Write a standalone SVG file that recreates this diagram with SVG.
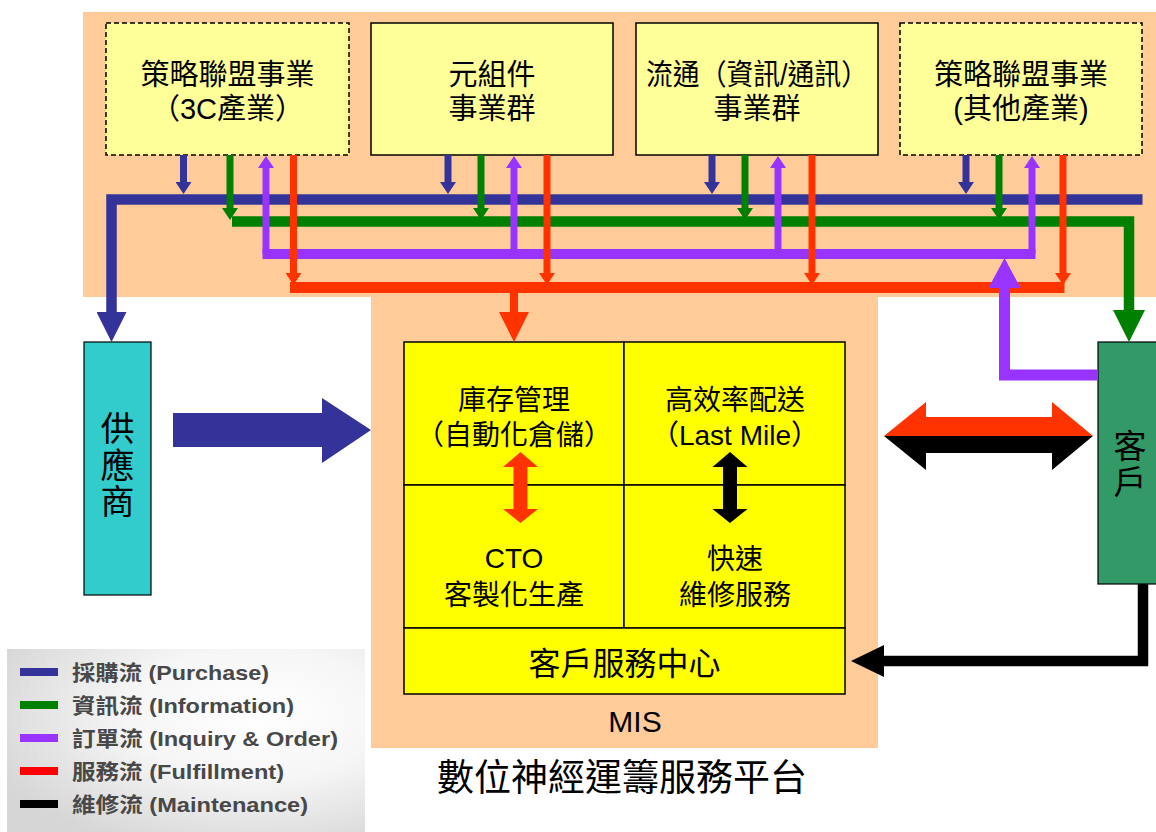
<svg xmlns="http://www.w3.org/2000/svg" width="1156" height="832" viewBox="0 0 1156 832">
<defs>
<style>
.bg{fill:#FFCC99}
.tb{fill:#FFFF99;stroke:#000;stroke-width:1.5}
.dash{stroke-dasharray:5,3}
.cell{fill:#FFFF00;stroke:#000;stroke-width:1.5}
.t{font-family:'Liberation Sans','Noto Sans CJK TC',sans-serif;font-size:28px;fill:#000;text-anchor:middle}
.tt{font-size:29px}
.lg{font-family:'Liberation Sans','Noto Sans CJK TC',sans-serif;font-size:21px;font-weight:bold;fill:#484848}
.bl{stroke:#333399;fill:none}
.gr{stroke:#008000;fill:none}
.pu{stroke:#9933FF;fill:none}
.rd{stroke:#FF3300;fill:none}
.sm{stroke-width:7}
</style>
<marker id="hb" markerUnits="userSpaceOnUse" markerWidth="16" markerHeight="16" viewBox="0 0 12 16" refX="0" refY="8" orient="auto"><path d="M0,0 L12,8 L0,16 Z" fill="#333399"/></marker>
<marker id="hg" markerUnits="userSpaceOnUse" markerWidth="16" markerHeight="16" viewBox="0 0 12 16" refX="0" refY="8" orient="auto"><path d="M0,0 L12,8 L0,16 Z" fill="#008000"/></marker>
<marker id="hp" markerUnits="userSpaceOnUse" markerWidth="16" markerHeight="16" viewBox="0 0 12 16" refX="0" refY="8" orient="auto"><path d="M0,0 L12,8 L0,16 Z" fill="#9933FF"/></marker>
<marker id="hr" markerUnits="userSpaceOnUse" markerWidth="16" markerHeight="16" viewBox="0 0 12 16" refX="0" refY="8" orient="auto"><path d="M0,0 L12,8 L0,16 Z" fill="#FF3300"/></marker>
<marker id="Hb" markerUnits="userSpaceOnUse" markerWidth="30" markerHeight="30" viewBox="0 0 30 30" refX="0" refY="15" orient="auto"><path d="M0,0 L30,15 L0,30 Z" fill="#333399"/></marker>
<marker id="Hg" markerUnits="userSpaceOnUse" markerWidth="32" markerHeight="32" viewBox="0 0 32 32" refX="0" refY="16" orient="auto"><path d="M0,0 L32,16 L0,32 Z" fill="#008000"/></marker>
<marker id="Hp" markerUnits="userSpaceOnUse" markerWidth="32" markerHeight="32" viewBox="0 0 30 32" refX="0" refY="16" orient="auto"><path d="M0,0 L30,16 L0,32 Z" fill="#9933FF"/></marker>
<marker id="Hr" markerUnits="userSpaceOnUse" markerWidth="30" markerHeight="30" viewBox="0 0 30 30" refX="0" refY="15" orient="auto"><path d="M0,0 L30,15 L0,30 Z" fill="#FF3300"/></marker>
<radialGradient id="lgbg" cx="0.7" cy="0.35" r="0.8">
<stop offset="0" stop-color="#FFFFFF"/>
<stop offset="0.45" stop-color="#F6F6F6"/>
<stop offset="1" stop-color="#D6D6D6"/>
</radialGradient>
</defs>
<rect width="1156" height="832" fill="#FFFFFF"/>

<g id="backgrounds">
<rect class="bg" x="83" y="12" width="1073" height="285"/>
<rect class="bg" x="371" y="297" width="507" height="451"/>
</g>

<g id="node-3c">
<rect class="tb dash" x="106" y="23" width="243" height="132"/>
<text class="t tt" x="227.5" y="85">策略聯盟事業</text>
<text class="t tt" x="227.5" y="119">（3C產業）</text>
</g>
<g id="node-components">
<rect class="tb" x="371" y="23" width="242" height="132"/>
<text class="t tt" x="492" y="85">元組件</text>
<text class="t tt" x="492" y="119">事業群</text>
</g>
<g id="node-distribution">
<rect class="tb" x="636" y="23" width="242" height="132"/>
<text class="t tt" x="757" y="85" textLength="222" lengthAdjust="spacingAndGlyphs">流通（資訊/通訊）</text>
<text class="t tt" x="757" y="119">事業群</text>
</g>
<g id="node-other">
<rect class="tb dash" x="900" y="23" width="242" height="132"/>
<text class="t tt" x="1021" y="85">策略聯盟事業</text>
<text class="t tt" x="1021" y="119">(其他產業)</text>
</g>

<g id="node-supplier">
<rect x="84" y="342" width="67" height="253" fill="#33CCCC" stroke="#000" stroke-width="1.2"/>
<text class="t" x="117.5" y="441" style="font-size:34px">供</text>
<text class="t" x="117.5" y="478" style="font-size:34px">應</text>
<text class="t" x="117.5" y="514" style="font-size:34px">商</text>
</g>

<g id="node-customer">
<rect x="1098" y="342" width="64" height="242" fill="#339966" stroke="#000" stroke-width="1.2"/>
<text class="t" x="1130" y="458" style="font-size:33px">客</text>
<text class="t" x="1130" y="494" style="font-size:33px">戶</text>
</g>

<g id="node-mis">
<rect class="cell" x="404" y="342" width="220" height="143"/>
<rect class="cell" x="624" y="342" width="221" height="143"/>
<rect class="cell" x="404" y="485" width="220" height="143"/>
<rect class="cell" x="624" y="485" width="221" height="143"/>
<rect class="cell" x="404" y="628" width="441" height="66"/>
<text class="t" x="514" y="410">庫存管理</text>
<text class="t" x="514" y="445">（自動化倉儲）</text>
<text class="t" x="735" y="410">高效率配送</text>
<text class="t" x="735" y="445">（Last Mile）</text>
<text class="t" x="514" y="568">CTO</text>
<text class="t" x="514" y="605">客製化生產</text>
<text class="t" x="735" y="569">快速</text>
<text class="t" x="735" y="605">維修服務</text>
<text class="t" x="624.5" y="675" style="font-size:32px">客戶服務中心</text>
<text class="t" x="635" y="732" style="font-size:30px">MIS</text>
<polygon points="520.5,452 538,467 527.5,467 527.5,509 538,509 520.5,523 503,509 513.5,509 513.5,467 503,467" fill="#FF3300"/>
<polygon points="730,452 747.5,467 737,467 737,509 747.5,509 730,523 712.5,509 723,509 723,467 712.5,467" fill="#000000"/>
</g>

<g id="title">
<text class="t" x="622" y="791" style="font-size:37px">數位神經運籌服務平台</text>
</g>

<g id="connectors">
<path class="bl" d="M1142.5,199.5 H111.5 V312" stroke-width="10.5" stroke-linejoin="miter" marker-end="url(#Hb)"/>
<line class="bl sm" x1="183.5" y1="155" x2="183.5" y2="182" marker-end="url(#hb)"/>
<line class="bl sm" x1="448" y1="155" x2="448" y2="182" marker-end="url(#hb)"/>
<line class="bl sm" x1="712" y1="155" x2="712" y2="182" marker-end="url(#hb)"/>
<line class="bl sm" x1="966" y1="155" x2="966" y2="182" marker-end="url(#hb)"/>
<path class="gr" d="M232,221.5 H1129 V310" stroke-width="10.5" stroke-linejoin="miter" marker-end="url(#Hg)"/>
<line class="gr sm" x1="230" y1="155" x2="230" y2="208" marker-end="url(#hg)"/>
<line class="gr sm" x1="481" y1="155" x2="481" y2="208" marker-end="url(#hg)"/>
<line class="gr sm" x1="745" y1="155" x2="745" y2="208" marker-end="url(#hg)"/>
<line class="gr sm" x1="999" y1="155" x2="999" y2="208" marker-end="url(#hg)"/>
<line class="pu" x1="262.5" y1="254" x2="1035.5" y2="254" stroke-width="10"/>
<line class="pu sm" x1="266" y1="254" x2="266" y2="168" marker-end="url(#hp)"/>
<line class="pu sm" x1="514" y1="254" x2="514" y2="168" marker-end="url(#hp)"/>
<line class="pu sm" x1="778" y1="254" x2="778" y2="168" marker-end="url(#hp)"/>
<line class="pu sm" x1="1032" y1="254" x2="1032" y2="168" marker-end="url(#hp)"/>
<line class="rd" x1="290" y1="287.5" x2="1064.5" y2="287.5" stroke-width="11"/>
<line class="rd sm" x1="293.5" y1="155" x2="293.5" y2="273" marker-end="url(#hr)"/>
<line class="rd sm" x1="547" y1="155" x2="547" y2="273" marker-end="url(#hr)"/>
<line class="rd sm" x1="812" y1="155" x2="812" y2="273" marker-end="url(#hr)"/>
<line class="rd sm" x1="1063" y1="155" x2="1063" y2="273" marker-end="url(#hr)"/>
<line class="rd" x1="514" y1="292" x2="514" y2="312" stroke-width="8" marker-end="url(#Hr)"/>
<path class="pu" d="M1098,375 H1004.5 V288" stroke-width="11" stroke-linejoin="miter" marker-end="url(#Hp)"/>
<path d="M1143,584 V661 H882" fill="none" stroke="#000" stroke-width="10.5" stroke-linejoin="miter"/>
<polygon points="884,645 851,661 884,677" fill="#000"/>
<polygon points="173,413 322,413 322,398 371,430 322,463 322,447 173,447" fill="#333399"/>
<polygon points="884,436 926,402 926,417 1052,417 1052,402 1093,436" fill="#FF3300"/>
<polygon points="884,436 926,470 926,453 1052,453 1052,470 1093,436" fill="#000000"/>
</g>

<g id="legend">
<rect x="7" y="649" width="358" height="183" fill="url(#lgbg)"/>
<line x1="20" y1="672" x2="58" y2="672" stroke="#333399" stroke-width="8"/>
<line x1="20" y1="705" x2="58" y2="705" stroke="#008000" stroke-width="8"/>
<line x1="20" y1="738" x2="58" y2="738" stroke="#9933FF" stroke-width="8"/>
<line x1="20" y1="771" x2="58" y2="771" stroke="#FF0000" stroke-width="8"/>
<line x1="20" y1="804" x2="58" y2="804" stroke="#000000" stroke-width="8"/>
<text class="lg" x="72" y="680" textLength="197" lengthAdjust="spacingAndGlyphs">採購流 (Purchase)</text>
<text class="lg" x="72" y="713" textLength="222" lengthAdjust="spacingAndGlyphs">資訊流 (Information)</text>
<text class="lg" x="72" y="746" textLength="266" lengthAdjust="spacingAndGlyphs">訂單流 (Inquiry &amp; Order)</text>
<text class="lg" x="72" y="779" textLength="212" lengthAdjust="spacingAndGlyphs">服務流 (Fulfillment)</text>
<text class="lg" x="72" y="812" textLength="236" lengthAdjust="spacingAndGlyphs">維修流 (Maintenance)</text>
</g>
</svg>
